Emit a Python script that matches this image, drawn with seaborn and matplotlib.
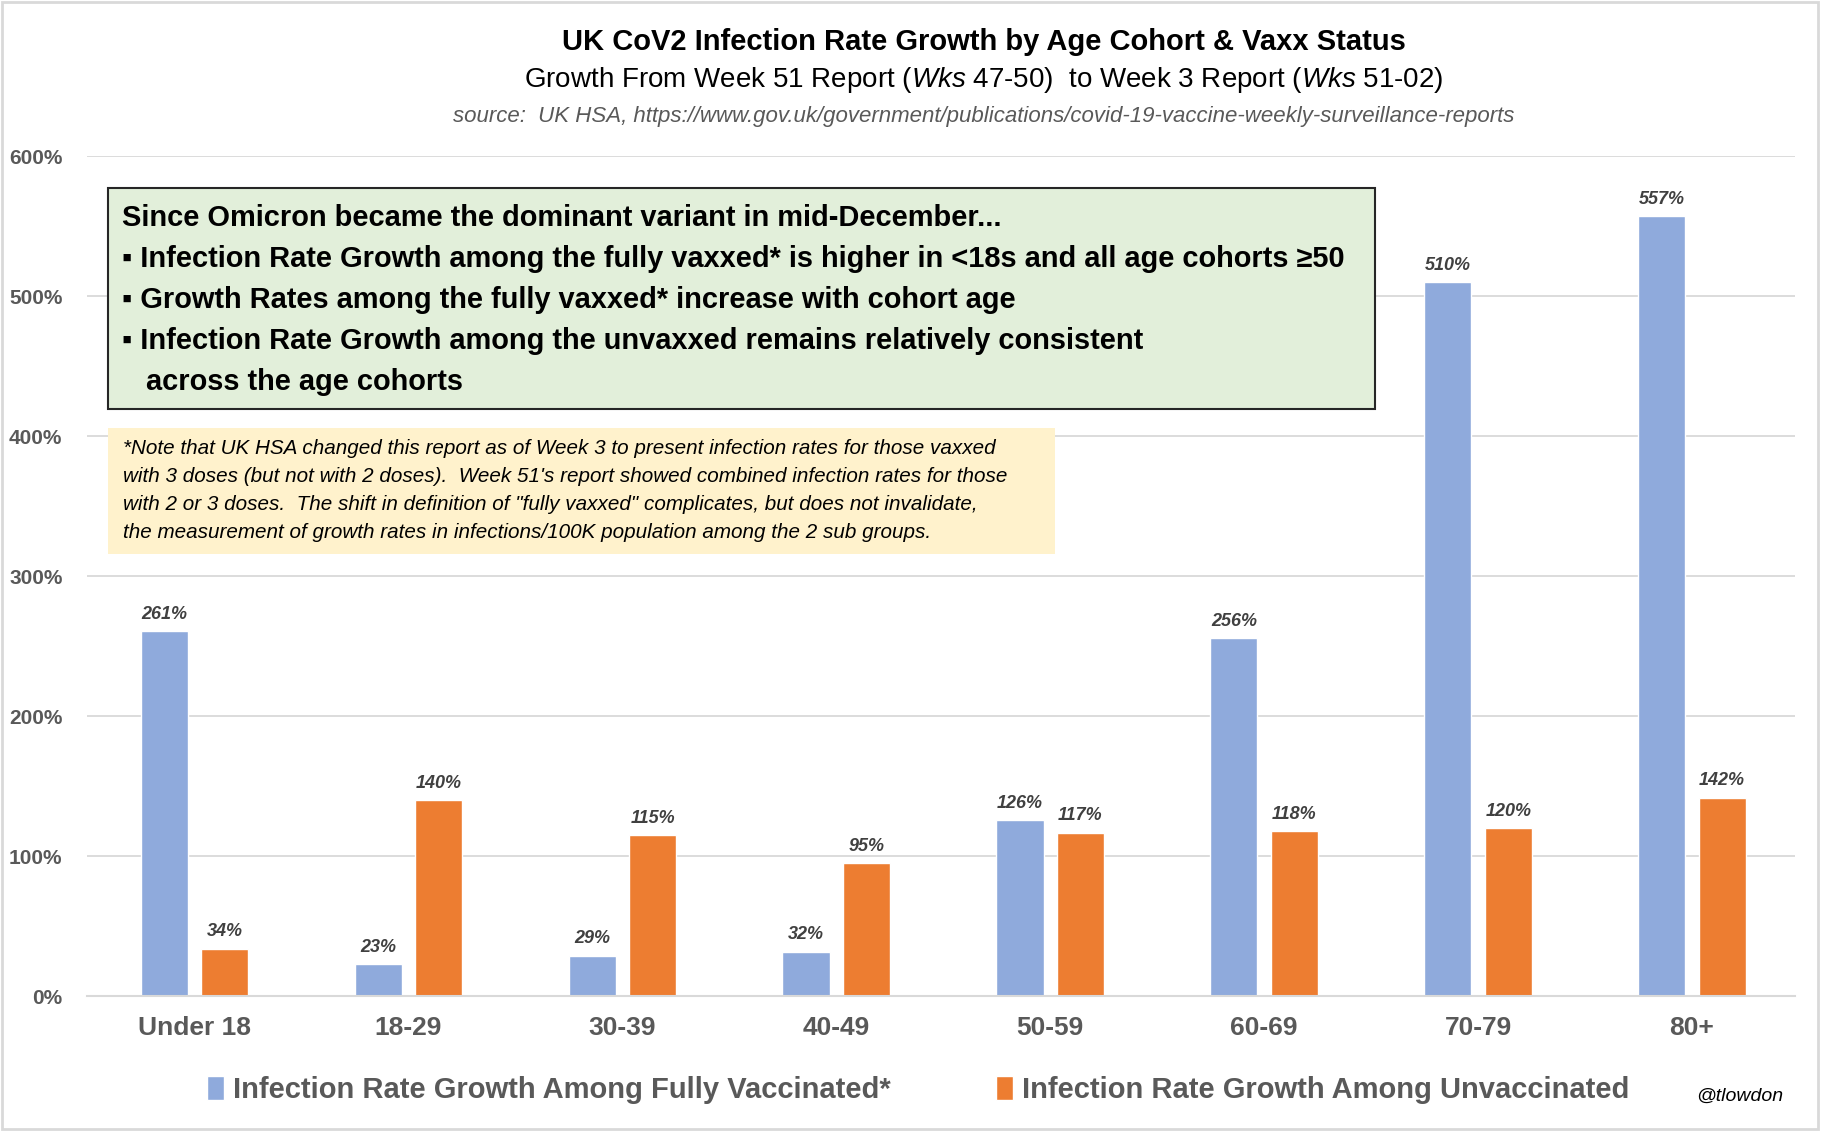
import matplotlib
matplotlib.use('Agg')
import matplotlib.pyplot as plt
from matplotlib.patches import Rectangle
import seaborn as sns
import pandas as pd

# Data
cohorts = ['Under 18', '18-29', '30-39', '40-49', '50-59', '60-69', '70-79', '80+']
vaxxed_growth = [261, 23, 29, 32, 126, 256, 510, 557]
unvaxxed_growth = [34, 140, 115, 95, 117, 118, 120, 142]
series_names = ['Infection Rate Growth Among Fully Vaccinated*',
                'Infection Rate Growth Among Unvaccinated']
y_ticks = [0, 100, 200, 300, 400, 500, 600]

df = pd.DataFrame({
    'cohort': cohorts * 2,
    'growth': vaxxed_growth + unvaxxed_growth,
    'series': [series_names[0]] * len(cohorts) + [series_names[1]] * len(cohorts),
})

sns.set_theme(style='white')
plt.rcParams['font.family'] = ['Liberation Sans', 'DejaVu Sans']
plt.rcParams['mathtext.fontset'] = 'custom'
plt.rcParams['mathtext.rm'] = 'Liberation Sans'
plt.rcParams['mathtext.it'] = 'Liberation Sans:italic'

fig = plt.figure(figsize=(18.22, 11.31), dpi=100)
ax = fig.add_axes([0.048, 0.119, 0.937, 0.743])

palette = {series_names[0]: '#8FAADC', series_names[1]: '#ED7D31'}
sns.barplot(data=df, x='cohort', y='growth', hue='series', palette=palette,
            width=0.565, gap=0.22, ax=ax, legend=False, saturation=1)

for cont in ax.containers:
    ax.bar_label(cont, fmt='{:.0f}%', padding=6, fontsize=13, fontweight='bold',
                 fontstyle='italic', color='#404040')

ax.set_ylim(0, 600)
ax.set_xlim(-0.5, 7.48)
ax.set_yticks(y_ticks)
ax.set_yticklabels([f'{t}%' for t in y_ticks], fontsize=15, fontweight='bold', color='#595959')
ax.set_xticks(range(len(cohorts)))
ax.set_xticklabels(cohorts, fontsize=19, fontweight='bold', color='#595959')
ax.tick_params(axis='x', pad=14, length=0)
ax.tick_params(axis='y', pad=18, length=0)
ax.set_xlabel('')
ax.set_ylabel('')
ax.yaxis.grid(True, color='#D9D9D9', linewidth=1.3)
ax.set_axisbelow(True)
for s in ['top', 'right', 'left']:
    ax.spines[s].set_visible(False)
ax.spines['bottom'].set_color('#D9D9D9')
ax.spines['bottom'].set_linewidth(1.5)

# titles
fig.text(0.54, 0.963, 'UK CoV2 Infection Rate Growth by Age Cohort & Vaxx Status',
         ha='center', va='center', fontsize=21, fontweight='bold', color='black')
fig.text(0.54, 0.929, 'Growth From Week 51 Report ($\\it{Wks\\ 47}$-$\\it{50}$)  to Week 3 Report ($\\it{Wks\\ 51}$-$\\it{02}$)',
         ha='center', va='center', fontsize=20, color='black')
fig.text(0.54, 0.897, 'source:  UK HSA, https://www.gov.uk/government/publications/covid-19-vaccine-weekly-surveillance-reports',
         ha='center', va='center', fontsize=16, fontstyle='italic', color='#595959')

# green summary box
fig.patches.append(Rectangle((108 / 1822, 1 - 409 / 1131), (1375 - 108) / 1822, (409 - 188) / 1131,
                             transform=fig.transFigure, facecolor='#E2EFDA', edgecolor='#262626',
                             linewidth=1.5, zorder=3))
summary_lines = [
    'Since Omicron became the dominant variant in mid-December...',
    '\u25aa Infection Rate Growth among the fully vaxxed* is higher in <18s and all age cohorts \u226550',
    '\u25aa Growth Rates among the fully vaxxed* increase with cohort age',
    '\u25aa Infection Rate Growth among the unvaxxed remains relatively consistent',
    '   across the age cohorts',
]
for i, line in enumerate(summary_lines):
    fig.text(122 / 1822, 1 - (218 + i * 41) / 1131, line, ha='left', va='center',
             fontsize=20.9, fontweight='bold', color='black', zorder=4)

# yellow note box
fig.patches.append(Rectangle((108 / 1822, 1 - 554 / 1131), (1055 - 108) / 1822, (554 - 428) / 1131,
                             transform=fig.transFigure, facecolor='#FFF2CC', edgecolor='none', zorder=3))
note_lines = [
    '*Note that UK HSA changed this report as of Week 3 to present infection rates for those vaxxed',
    "with 3 doses (but not with 2 doses).  Week 51's report showed combined infection rates for those",
    'with 2 or 3 doses.  The shift in definition of "fully vaxxed" complicates, but does not invalidate,',
    'the measurement of growth rates in infections/100K population among the 2 sub groups.',
]
for i, line in enumerate(note_lines):
    fig.text(123 / 1822, 1 - (449 + i * 28) / 1131, line, ha='left', va='center',
             fontsize=14.9, fontstyle='italic', color='black', zorder=4)

# legend
handles = [Rectangle((0, 0), 1, 1, facecolor=palette[n]) for n in series_names]
fig.legend(handles, series_names, loc='center', bbox_to_anchor=(0.504, 0.036), ncol=2,
           frameon=False, handlelength=0.6, handleheight=0.9, handletextpad=0.3,
           columnspacing=3.6, prop={'weight': 'bold', 'size': 21})
for t in fig.legends[0].get_texts():
    t.set_color('#595959')

fig.text(0.979, 0.031, '@tlowdon', ha='right', va='center', fontsize=14,
         fontstyle='italic', color='black')

# outer frame
fig.patches.append(Rectangle((0.001, 0.002), 0.997, 0.996, transform=fig.transFigure,
                             facecolor='none', edgecolor='#D9D9D9', linewidth=2))

fig.savefig('out.png', dpi=100)
